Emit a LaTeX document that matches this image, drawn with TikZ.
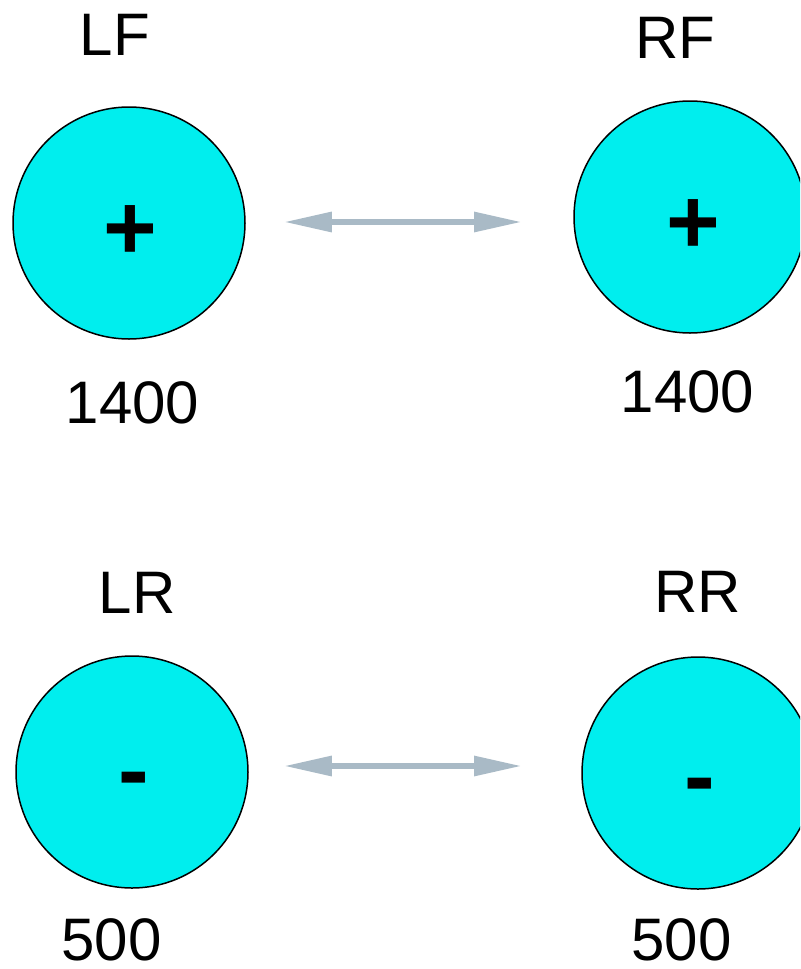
\documentclass[tikz,border=0pt]{standalone}
\usepackage{fontspec}
\setmainfont{Liberation Sans}
\usepackage{xcolor}
\definecolor{wheelcyan}{RGB}{0,238,238}
\definecolor{axlegray}{RGB}{169,186,198}
\usepackage{tikz}
\usetikzlibrary{arrows.meta,positioning,calc}
\tikzset{
  wheel/.style={circle,draw,line width=0.75pt,fill=wheelcyan,minimum size=116pt,inner sep=0pt},
  sign/.style={anchor=base,inner sep=0pt,font=\fontsize{46}{55}\selectfont\bfseries},
  tag/.style={anchor=base,inner sep=0pt,font=\fontsize{30}{36}\selectfont},
  axle/.style={{Triangle[length=24pt,width=9.5pt]}-{Triangle[length=24pt,width=9.5pt]},line width=3pt,draw=axlegray}
}

\begin{document}
\begin{tikzpicture}[x=0.5pt,y=-0.5pt]
  \clip (0,0) rectangle (800,969);
  % Wheels
  \node[wheel] (lf) at (129,223) {};
  \node[wheel] (rf) at (690,217) {};
  \node[wheel] (lr) at (132,772) {};
  \node[wheel] (rr) at (698,773) {};

  % Signs
  \node[sign] (lfsign) at (130.5,259) {+};
  \node[sign] (rfsign) at (693.5,253) {+};
  \node[sign] (lrsign) at (133.5,801) {-};
  \node[sign] (rrsign) at (699.5,807) {-};

  % Axles
  \draw[axle,shorten <=19pt,shorten >=84pt] ([yshift=0.5pt]lf.east) -- ([yshift=0.5pt]lf.east -| rf);
  \draw[axle,shorten <=17.5pt,shorten >=88pt] ([yshift=3pt]lr.east) -- ([yshift=3pt]lr.east -| rr);

  % Names and loads
  \node[tag] (lfname) at (115,55) {LF};
  \node[tag] (rfname) at (675,58) {RF};
  \node[tag] (lrname) at (137,613) {LR};
  \node[tag] (rrname) at (697.5,612) {RR};
  \node[tag] (lfload) at (132.5,423) {1400};
  \node[tag] (rfload) at (687.5,412) {1400};
  \node[tag] (lrload) at (111.5,960) {500};
  \node[tag] (rrload) at (681.5,960) {500};
\end{tikzpicture}
\end{document}
